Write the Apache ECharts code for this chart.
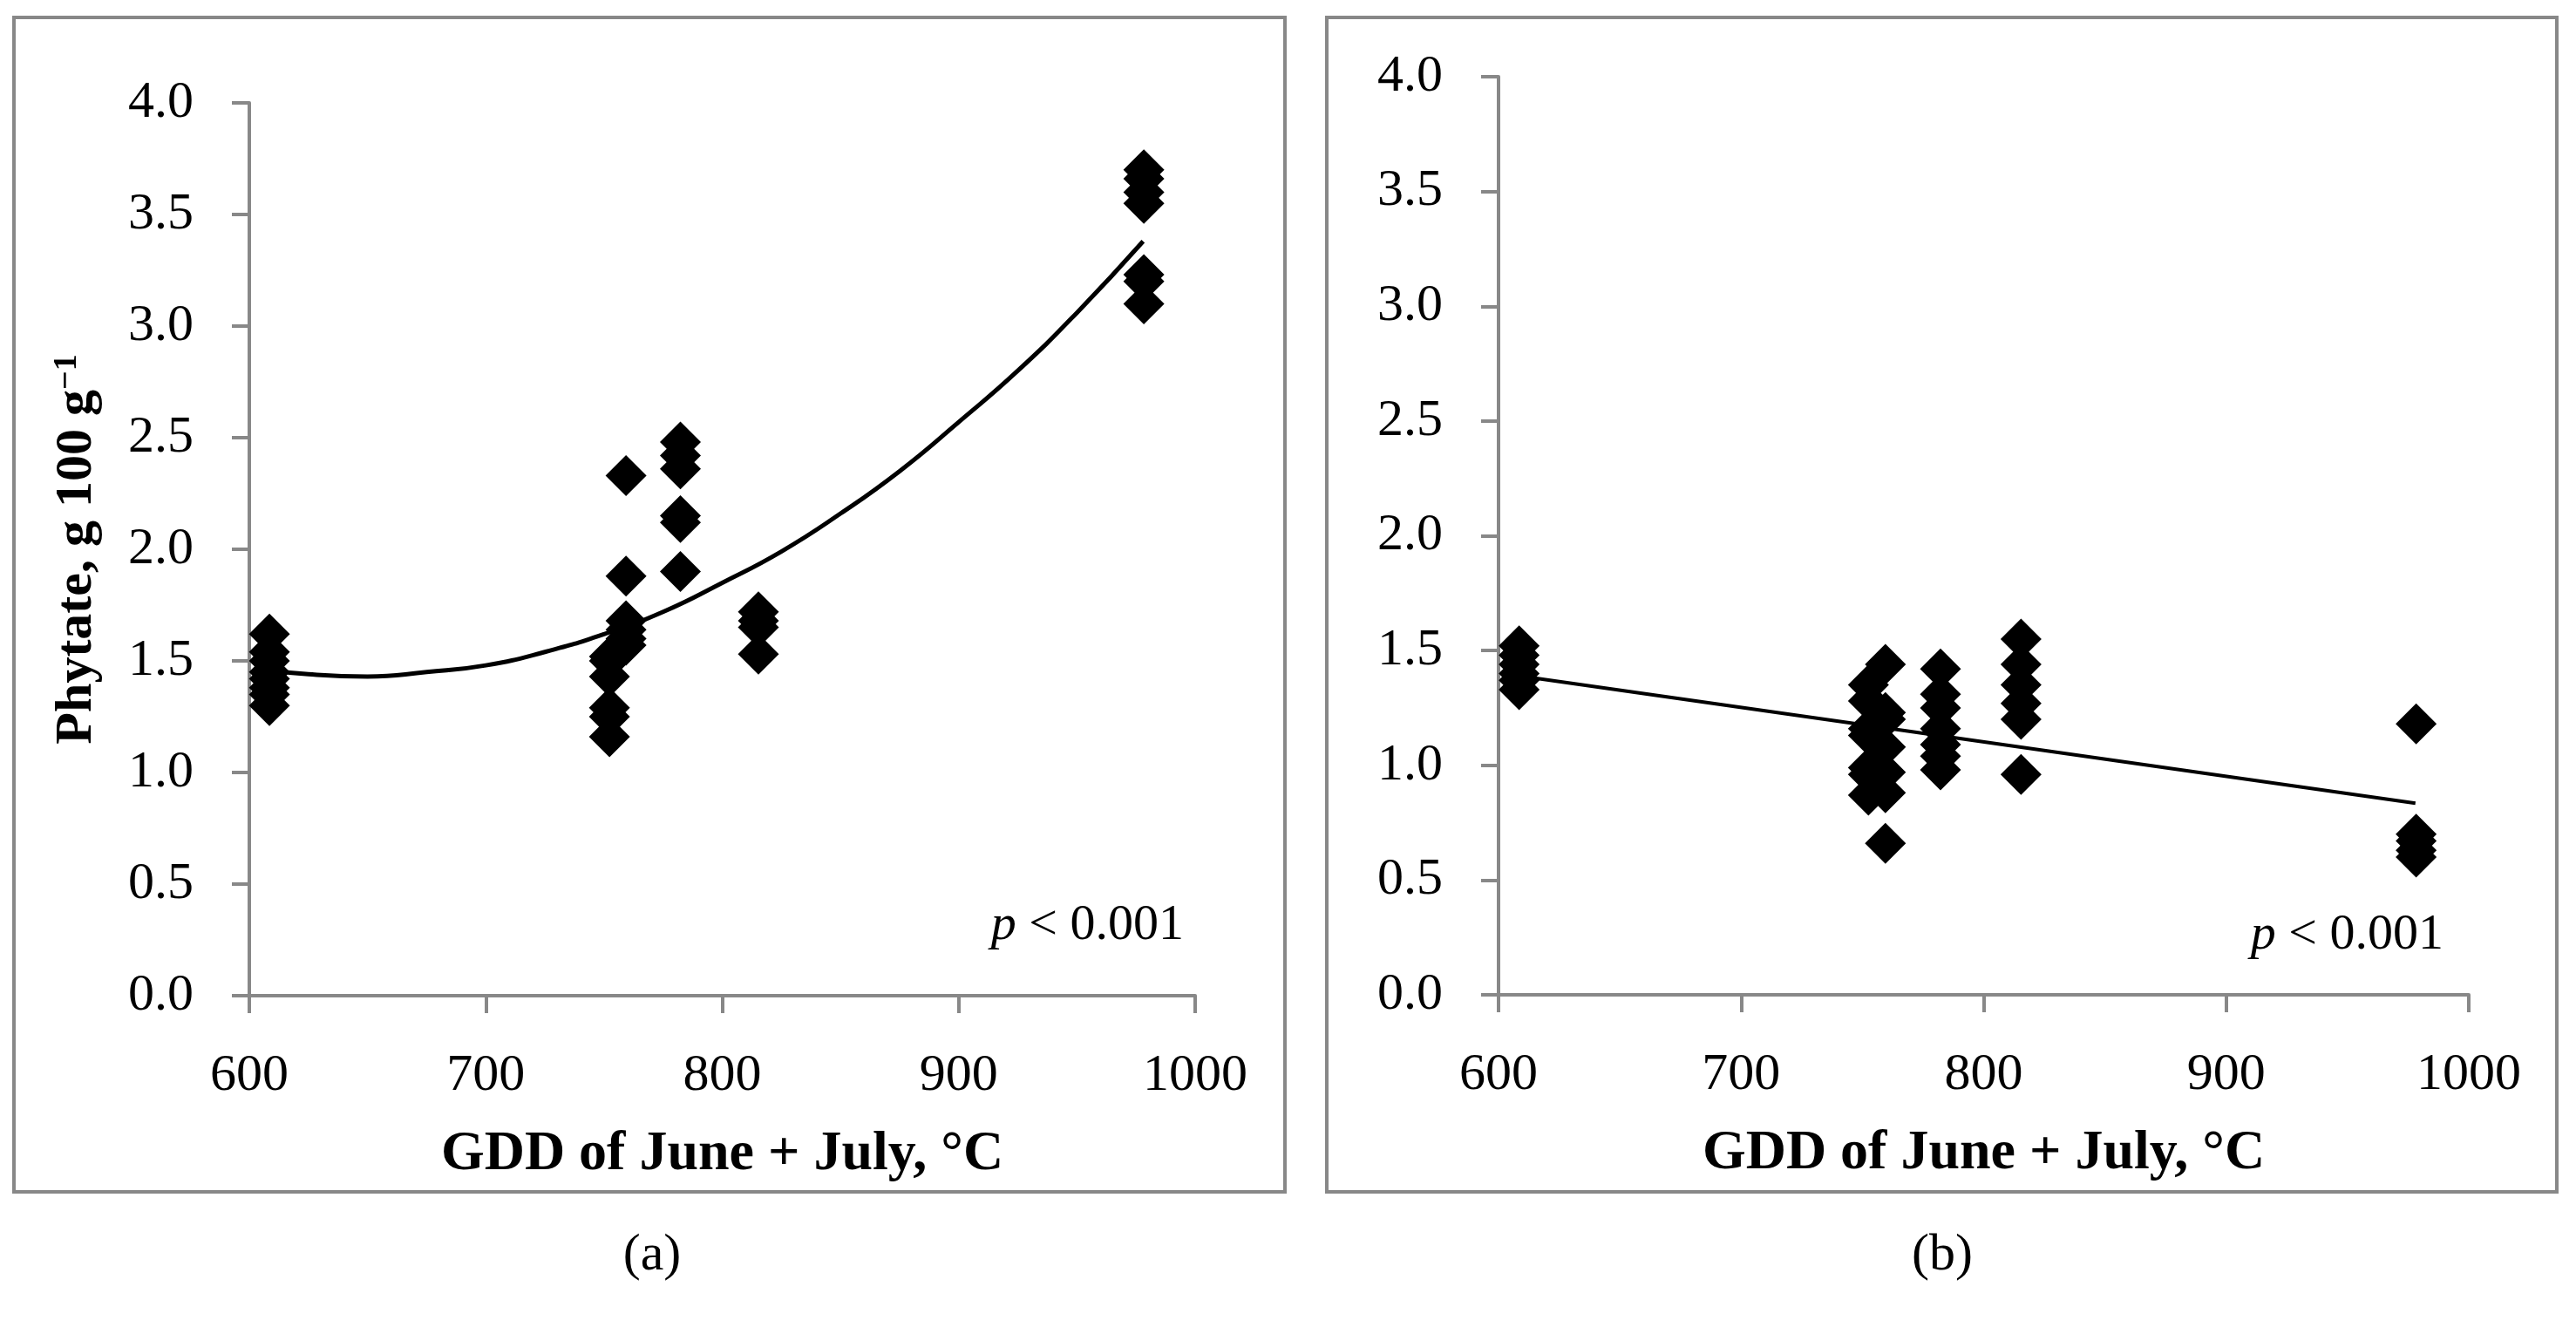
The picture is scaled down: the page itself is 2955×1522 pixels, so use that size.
<!DOCTYPE html>
<html>
<head>
<meta charset="utf-8">
<title>Phytate vs GDD</title>
<script src="https://cdn.jsdelivr.net/npm/echarts@6.0.0/dist/echarts.min.js"></script>
<style>
  html, body { margin: 0; padding: 0; background: #fff; }
  #main { width: 2955px; height: 1522px; }
</style>
</head>
<body>
<div id="main"></div>
<script>
// GDD of June + July (°C) for each sampled site/year
const gddA = [608.5, 752.3, 759.3, 782.3, 815.3, 978.3];
const gddB = [608.5, 752.5, 759.5, 782.2, 815.4, 978.3];

// (a) phytate, g 100 g-1, one list per GDD value
const phytateA = [
  [1.30, 1.35, 1.38, 1.42, 1.45, 1.50, 1.54, 1.62],
  [1.16, 1.25, 1.29, 1.43, 1.50, 1.52],
  [1.57, 1.60, 1.64, 1.68, 1.88, 2.33],
  [1.90, 2.12, 2.15, 2.36, 2.42, 2.48],
  [1.53, 1.65, 1.68, 1.72],
  [3.10, 3.20, 3.23, 3.55, 3.60, 3.66, 3.70]
];

// (b)
const phytateB = [
  [1.33, 1.37, 1.40, 1.44, 1.48, 1.52],
  [0.87, 0.96, 0.99, 1.13, 1.16, 1.28, 1.35],
  [0.66, 0.88, 0.97, 1.08, 1.20, 1.23, 1.44],
  [0.98, 1.04, 1.09, 1.16, 1.25, 1.31, 1.42],
  [0.96, 1.20, 1.27, 1.35, 1.44, 1.55],
  [0.60, 0.63, 0.67, 0.70, 1.18]
];

// trend lines
const trendA = [[608, 1.46], [625, 1.44], [650, 1.43], [675, 1.45], [700, 1.48],
                [725, 1.54], [750, 1.62], [775, 1.72], [800, 1.85], [825, 1.99],
                [850, 2.16], [875, 2.35], [900, 2.57], [925, 2.80], [950, 3.06],
                [978, 3.38]];
const trendB = [[608, 1.39], [978, 0.835]];

// axis ranges / tick steps
const xRange = [600, 1000, 100];
const yRange = [0, 4, 0.5];

const xTitle = "GDD of June + July, °C";
const yTitle = "Phytate, g 100 g";
const panelLabels = ["(a)", "(b)"];

const FONT = "'Liberation Serif', 'Times New Roman', serif";
const GRAY = "#888";

const toPoints = (xs, groups) => xs.flatMap((g, i) => groups[i].map(v => [g, v]));

const chart = echarts.init(document.getElementById("main"));

function xAxisFor(gridIndex) {
  return {
    type: "value", gridIndex,
    min: xRange[0], max: xRange[1], interval: xRange[2],
    name: xTitle, nameLocation: "middle", nameGap: 150,
    nameTextStyle: { fontFamily: FONT, fontWeight: "bold", fontSize: 64, color: "#000" },
    axisLine: { show: true, lineStyle: { color: GRAY, width: 4 } },
    axisTick: { show: true, length: 20, lineStyle: { color: GRAY, width: 4 } },
    axisLabel: { fontFamily: FONT, fontSize: 60, color: "#000", margin: 62,
                 formatter: v => String(v) },
    splitLine: { show: false }
  };
}

function yAxisFor(gridIndex, withName) {
  const ax = {
    type: "value", gridIndex,
    min: yRange[0], max: yRange[1], interval: yRange[2],
    axisLine: { show: true, lineStyle: { color: GRAY, width: 4 } },
    axisTick: { show: true, length: 20, lineStyle: { color: GRAY, width: 4 } },
    axisLabel: { fontFamily: FONT, fontSize: 60, color: "#000", margin: 64,
                 formatter: v => v.toFixed(1) },
    splitLine: { show: false }
  };
  if (withName) {
    ax.name = "{t|" + yTitle + "}{s|−1}";
    ax.nameLocation = "middle";
    ax.nameGap = 168;
    ax.nameTextStyle = {
      fontFamily: FONT, fontWeight: "bold", fontSize: 60, color: "#000",
      rich: {
        t: { fontFamily: FONT, fontWeight: "bold", fontSize: 60, color: "#000" },
        s: { fontFamily: FONT, fontWeight: "bold", fontSize: 38, color: "#000",
             verticalAlign: "top", padding: [0, 0, 22, 0] }
      }
    };
  }
  return ax;
}

function scatter(idx, data) {
  return {
    type: "scatter", xAxisIndex: idx, yAxisIndex: idx,
    symbol: "diamond", symbolSize: 47,
    itemStyle: { color: "#000", opacity: 1 },
    data, z: 3, silent: true
  };
}

function trend(idx, data, width, smooth) {
  return {
    type: "line", xAxisIndex: idx, yAxisIndex: idx,
    data, smooth, showSymbol: false, symbol: "none",
    lineStyle: { color: "#000", width }, z: 4, silent: true
  };
}

function box(x1, y1, x2, y2) {
  return {
    type: "rect", shape: { x: x1, y: y1, width: x2 - x1, height: y2 - y1 },
    style: { fill: "none", stroke: GRAY, lineWidth: 4 }, silent: true
  };
}

function label(text, x, y, align, size) {
  return {
    type: "text", x, y, silent: true,
    style: {
      text, fontFamily: FONT, fontSize: size, fill: "#000",
      align, verticalAlign: "middle",
      rich: { i: { fontFamily: FONT, fontStyle: "italic", fontSize: size, fill: "#000" } }
    }
  };
}

const option = {
  animation: false,
  backgroundColor: "#fff",
  grid: [
    { left: 286, top: 118, width: 1085, height: 1024 },
    { left: 1719, top: 88, width: 1113, height: 1053 }
  ],
  xAxis: [xAxisFor(0), xAxisFor(1)],
  yAxis: [yAxisFor(0, true), yAxisFor(1, false)],
  series: [
    scatter(0, toPoints(gddA, phytateA)),
    trend(0, trendA, 5, true),
    scatter(1, toPoints(gddB, phytateB)),
    trend(1, trendB, 4, false)
  ],
  graphic: [
    box(16, 20, 1474, 1367),
    box(1522, 20, 2933, 1367),
    label("{i|p} < 0.001", 1358, 1062, "right", 58),
    label("{i|p} < 0.001", 2803, 1073, "right", 58),
    label(panelLabels[0], 748, 1440, "center", 60),
    label(panelLabels[1], 2228, 1440, "center", 60)
  ]
};

chart.setOption(option);
</script>
</body>
</html>
